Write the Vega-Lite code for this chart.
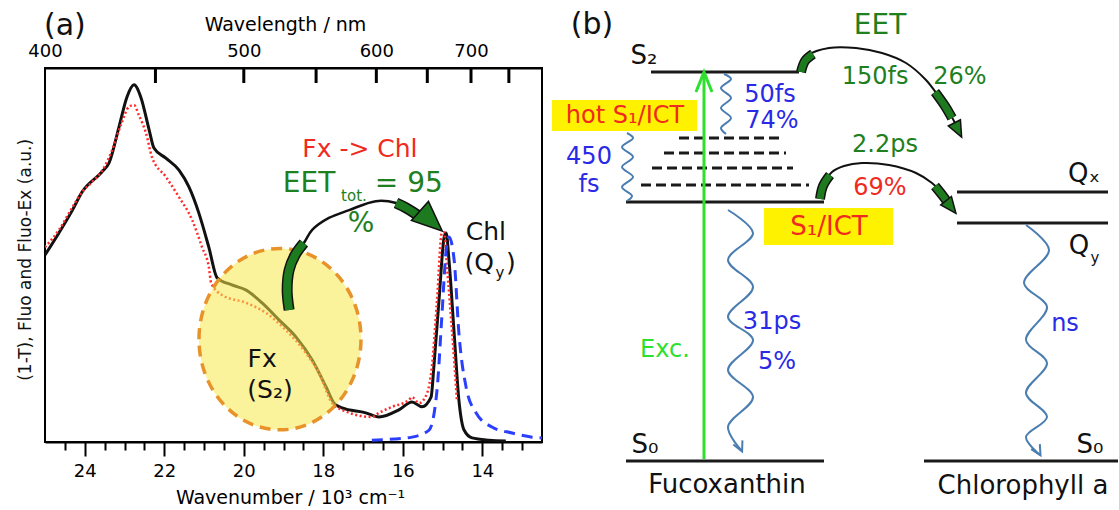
{
  "$schema": "https://vega.github.io/schema/vega-lite/v6.json",
  "background": "white",
  "padding": {"left": 15, "top": 10, "right": 0, "bottom": 0},
  "spacing": 0,
  "bounds": "flush",
  "config": {"font": "DejaVu Sans"},
  "datasets": {
    "spectra": [
      {"s":"abs","nu":25.0,"v":0.500},{"s":"abs","nu":24.65,"v":0.559},{"s":"abs","nu":24.32,"v":0.618},{"s":"abs","nu":24.07,"v":0.668},{"s":"abs","nu":23.57,"v":0.722},{"s":"abs","nu":23.39,"v":0.746},{"s":"abs","nu":23.14,"v":0.842},{"s":"abs","nu":22.94,"v":0.922},{"s":"abs","nu":22.76,"v":0.955},{"s":"abs","nu":22.59,"v":0.922},{"s":"abs","nu":22.38,"v":0.834},{"s":"abs","nu":22.26,"v":0.786},{"s":"abs","nu":21.96,"v":0.759},{"s":"abs","nu":21.63,"v":0.727},{"s":"abs","nu":21.38,"v":0.682},{"s":"abs","nu":21.13,"v":0.612},{"s":"abs","nu":20.88,"v":0.521},{"s":"abs","nu":20.67,"v":0.439},{"s":"abs","nu":20.30,"v":0.420},{"s":"abs","nu":19.94,"v":0.406},{"s":"abs","nu":19.54,"v":0.372},{"s":"abs","nu":19.11,"v":0.326},{"s":"abs","nu":18.69,"v":0.281},{"s":"abs","nu":18.28,"v":0.219},{"s":"abs","nu":17.93,"v":0.147},{"s":"abs","nu":17.73,"v":0.104},{"s":"abs","nu":17.53,"v":0.091},{"s":"abs","nu":16.93,"v":0.078},{"s":"abs","nu":16.60,"v":0.067},{"s":"abs","nu":16.10,"v":0.086},{"s":"abs","nu":15.77,"v":0.107},{"s":"abs","nu":15.52,"v":0.094},{"s":"abs","nu":15.29,"v":0.120},{"s":"abs","nu":15.22,"v":0.201},{"s":"abs","nu":15.09,"v":0.380},{"s":"abs","nu":14.96,"v":0.548},{"s":"abs","nu":14.91,"v":0.559},{"s":"abs","nu":14.84,"v":0.487},{"s":"abs","nu":14.71,"v":0.291},{"s":"abs","nu":14.59,"v":0.112},{"s":"abs","nu":14.46,"v":0.032},{"s":"abs","nu":14.26,"v":0.011},{"s":"abs","nu":13.83,"v":0.005},{"s":"abs","nu":13.41,"v":0.003},
      {"s":"fluoex","nu":25.0,"v":0.521},{"s":"fluoex","nu":24.65,"v":0.567},{"s":"fluoex","nu":24.32,"v":0.626},{"s":"fluoex","nu":24.07,"v":0.668},{"s":"fluoex","nu":23.82,"v":0.695},{"s":"fluoex","nu":23.52,"v":0.733},{"s":"fluoex","nu":23.31,"v":0.781},{"s":"fluoex","nu":23.09,"v":0.848},{"s":"fluoex","nu":22.89,"v":0.896},{"s":"fluoex","nu":22.76,"v":0.901},{"s":"fluoex","nu":22.64,"v":0.874},{"s":"fluoex","nu":22.46,"v":0.826},{"s":"fluoex","nu":22.31,"v":0.762},{"s":"fluoex","nu":21.96,"v":0.709},{"s":"fluoex","nu":21.63,"v":0.655},{"s":"fluoex","nu":21.30,"v":0.594},{"s":"fluoex","nu":21.05,"v":0.521},{"s":"fluoex","nu":20.88,"v":0.468},{"s":"fluoex","nu":20.82,"v":0.425},{"s":"fluoex","nu":20.55,"v":0.393},{"s":"fluoex","nu":19.94,"v":0.372},{"s":"fluoex","nu":19.44,"v":0.345},{"s":"fluoex","nu":18.94,"v":0.299},{"s":"fluoex","nu":18.44,"v":0.238},{"s":"fluoex","nu":18.11,"v":0.184},{"s":"fluoex","nu":17.78,"v":0.104},{"s":"fluoex","nu":17.53,"v":0.086},{"s":"fluoex","nu":16.78,"v":0.067},{"s":"fluoex","nu":16.60,"v":0.078},{"s":"fluoex","nu":16.27,"v":0.094},{"s":"fluoex","nu":15.85,"v":0.112},{"s":"fluoex","nu":15.77,"v":0.120},{"s":"fluoex","nu":15.59,"v":0.104},{"s":"fluoex","nu":15.39,"v":0.131},{"s":"fluoex","nu":15.27,"v":0.201},{"s":"fluoex","nu":15.14,"v":0.380},{"s":"fluoex","nu":15.02,"v":0.559},{"s":"fluoex","nu":14.96,"v":0.561},{"s":"fluoex","nu":14.89,"v":0.468},{"s":"fluoex","nu":14.79,"v":0.334},{"s":"fluoex","nu":14.71,"v":0.219},{"s":"fluoex","nu":14.64,"v":0.112},
      {"s":"fluo","nu":16.78,"v":0.005},{"s":"fluo","nu":16.22,"v":0.008},{"s":"fluo","nu":15.77,"v":0.013},{"s":"fluo","nu":15.34,"v":0.032},{"s":"fluo","nu":15.14,"v":0.139},{"s":"fluo","nu":15.02,"v":0.334},{"s":"fluo","nu":14.91,"v":0.513},{"s":"fluo","nu":14.84,"v":0.548},{"s":"fluo","nu":14.71,"v":0.487},{"s":"fluo","nu":14.59,"v":0.291},{"s":"fluo","nu":14.41,"v":0.147},{"s":"fluo","nu":14.16,"v":0.078},{"s":"fluo","nu":13.76,"v":0.040},{"s":"fluo","nu":13.25,"v":0.024},{"s":"fluo","nu":12.75,"v":0.013},{"s":"fluo","nu":12.5,"v":0.011}
    ],
    "regionA": [{"nu": 19.09, "v": 0.275}],
    "topTicksA": [
      {"nm": 450, "nu": 22.2222, "v": 0.98},
      {"nm": 500, "nu": 20.0, "v": 0.98},
      {"nm": 550, "nu": 18.1818, "v": 0.98},
      {"nm": 600, "nu": 16.6667, "v": 0.98},
      {"nm": 650, "nu": 15.3846, "v": 0.98},
      {"nm": 700, "nu": 14.2857, "v": 0.98},
      {"nm": 750, "nu": 13.3333, "v": 0.98}
    ],
    "arrowA": [
      {"seg":"edge","i":0,"nu":18.86,"v":0.353},{"seg":"edge","i":1,"nu":18.91,"v":0.406},{"seg":"edge","i":2,"nu":18.86,"v":0.460},{"seg":"edge","i":3,"nu":18.71,"v":0.500},{"seg":"edge","i":4,"nu":18.49,"v":0.532},{"seg":"edge","i":5,"nu":18.28,"v":0.567},{"seg":"edge","i":6,"nu":17.86,"v":0.599},{"seg":"edge","i":7,"nu":17.35,"v":0.620},{"seg":"edge","i":8,"nu":16.68,"v":0.644},{"seg":"edge","i":9,"nu":16.17,"v":0.639},{"seg":"edge","i":10,"nu":15.92,"v":0.626},{"seg":"edge","i":11,"nu":15.52,"v":0.599},
      {"seg":"b1","i":0,"nu":18.86,"v":0.353},{"seg":"b1","i":1,"nu":18.91,"v":0.406},{"seg":"b1","i":2,"nu":18.86,"v":0.460},{"seg":"b1","i":3,"nu":18.71,"v":0.500},{"seg":"b1","i":4,"nu":18.49,"v":0.532},
      {"seg":"b2","i":0,"nu":16.17,"v":0.639},{"seg":"b2","i":1,"nu":15.92,"v":0.626},{"seg":"b2","i":2,"nu":15.52,"v":0.599}
    ],
    "headA": [{"nu": 15.29, "v": 0.591, "dir": 132}],
    "textA": [
      {"t":"(a)","nu":24.5,"v":1.112,"kind":"plain","role":"title"},
      {"t":"(1-T), Fluo and Fluo-Ex (a.u.)","nu":25.478,"v":0.487,"kind":"plain","role":"axis"},
      {"t":"Fx -> Chl","nu":17.08,"v":0.783,"kind":"ict","role":"num"},
      {"t":"EET","nu":18.36,"v":0.690,"kind":"eet","role":"big"},
      {"t":"tot.","nu":17.23,"v":0.657,"kind":"eet","role":"sub"},
      {"t":"= 95","nu":15.85,"v":0.690,"kind":"eet","role":"big"},
      {"t":"%","nu":17.05,"v":0.583,"kind":"eet","role":"big"},
      {"t":"Chl","nu":13.91,"v":0.561,"kind":"plain","role":"num"},
      {"t":"(Q","nu":14.08,"v":0.479,"kind":"plain","role":"num"},
      {"t":"y","nu":13.56,"v":0.452,"kind":"plain","role":"sub"},
      {"t":")","nu":13.28,"v":0.479,"kind":"plain","role":"num"},
      {"t":"Fx","nu":19.54,"v":0.222,"kind":"plain","role":"num"},
      {"t":"(S₂)","nu":19.34,"v":0.139,"kind":"plain","role":"num"}
    ],
    "levelsB": [
      {"x1":652,"x2":800,"y":72,"state":"electronic"},
      {"x1":627,"x2":825,"y":202,"state":"electronic"},
      {"x1":680,"x2":781,"y":138,"state":"vibrational"},
      {"x1":665,"x2":787,"y":153,"state":"vibrational"},
      {"x1":653,"x2":794,"y":168,"state":"vibrational"},
      {"x1":642,"x2":810,"y":185,"state":"vibrational"},
      {"x1":958,"x2":1109,"y":192,"state":"electronic"},
      {"x1":958,"x2":1109,"y":223,"state":"electronic"},
      {"x1":627,"x2":825,"y":461,"state":"electronic"},
      {"x1":925,"x2":1119,"y":461,"state":"electronic"}
    ],
    "boxesB": [
      {"x1":553,"x2":698,"y1":100,"y2":131},
      {"x1":765,"x2":894,"y1":208,"y2":245}
    ],
    "wavesB": [
      {"w":"a","i":0,"x":725,"y":74},{"w":"a","i":1,"x":732,"y":79},{"w":"a","i":2,"x":722,"y":88},{"w":"a","i":3,"x":732,"y":98},{"w":"a","i":4,"x":722,"y":108},{"w":"a","i":5,"x":732,"y":118},{"w":"a","i":6,"x":722,"y":128},{"w":"a","i":7,"x":727,"y":134},
      {"w":"b","i":0,"x":628,"y":133},{"w":"b","i":1,"x":634,"y":138},{"w":"b","i":2,"x":623,"y":147},{"w":"b","i":3,"x":634,"y":157},{"w":"b","i":4,"x":623,"y":167},{"w":"b","i":5,"x":634,"y":177},{"w":"b","i":6,"x":623,"y":187},{"w":"b","i":7,"x":633,"y":196},{"w":"b","i":8,"x":628,"y":201},
      {"w":"c","i":0,"x":729,"y":210},{"w":"c","i":1,"x":754,"y":233},{"w":"c","i":2,"x":729,"y":260},{"w":"c","i":3,"x":754,"y":287},{"w":"c","i":4,"x":729,"y":317},{"w":"c","i":5,"x":754,"y":340},{"w":"c","i":6,"x":729,"y":370},{"w":"c","i":7,"x":754,"y":397},{"w":"c","i":8,"x":729,"y":427},{"w":"c","i":9,"x":743,"y":451},
      {"w":"d","i":0,"x":1027,"y":225},{"w":"d","i":1,"x":1050,"y":250},{"w":"d","i":2,"x":1025,"y":283},{"w":"d","i":3,"x":1048,"y":307},{"w":"d","i":4,"x":1027,"y":340},{"w":"d","i":5,"x":1048,"y":363},{"w":"d","i":6,"x":1027,"y":393},{"w":"d","i":7,"x":1048,"y":417},{"w":"d","i":8,"x":1027,"y":437},{"w":"d","i":9,"x":1041,"y":455}
    ],
    "waveHeadsB": [{"x":741,"y":447,"dir":155},{"x":1039,"y":451,"dir":150}],
    "arrowsB": [
      {"seg":"exc","i":0,"x":705,"y":459},{"seg":"exc","i":1,"x":705,"y":76},
      {"seg":"top_edge","i":0,"x":803,"y":70},{"seg":"top_edge","i":1,"x":810,"y":55},{"seg":"top_edge","i":2,"x":830,"y":48},{"seg":"top_edge","i":3,"x":857,"y":48},{"seg":"top_edge","i":4,"x":883,"y":53},{"seg":"top_edge","i":5,"x":907,"y":63},{"seg":"top_edge","i":6,"x":927,"y":80},{"seg":"top_edge","i":7,"x":940,"y":97},{"seg":"top_edge","i":8,"x":950,"y":112},{"seg":"top_edge","i":9,"x":957,"y":125},
      {"seg":"top_b1","i":0,"x":802,"y":72},{"seg":"top_b1","i":1,"x":806,"y":61},{"seg":"top_b1","i":2,"x":814,"y":54},
      {"seg":"top_b2","i":0,"x":936,"y":92},{"seg":"top_b2","i":1,"x":946,"y":106},{"seg":"top_b2","i":2,"x":953,"y":118},
      {"seg":"bot_edge","i":0,"x":822,"y":198},{"seg":"bot_edge","i":1,"x":825,"y":184},{"seg":"bot_edge","i":2,"x":833,"y":172},{"seg":"bot_edge","i":3,"x":845,"y":166},{"seg":"bot_edge","i":4,"x":863,"y":163},{"seg":"bot_edge","i":5,"x":890,"y":165},{"seg":"bot_edge","i":6,"x":917,"y":173},{"seg":"bot_edge","i":7,"x":933,"y":183},{"seg":"bot_edge","i":8,"x":944,"y":194},{"seg":"bot_edge","i":9,"x":950,"y":203},
      {"seg":"bot_b1","i":0,"x":821,"y":199},{"seg":"bot_b1","i":1,"x":824,"y":186},{"seg":"bot_b1","i":2,"x":831,"y":175},
      {"seg":"bot_b2","i":0,"x":936,"y":186},{"seg":"bot_b2","i":1,"x":944,"y":196},{"seg":"bot_b2","i":2,"x":949,"y":203}
    ],
    "headsB": [{"x":959,"y":130,"dir":153},{"x":952,"y":207,"dir":142}],
    "excHeadB": [{"x":705,"y":82,"dir":0}],
    "textB": [
      {"t":"(b)","x":593,"y":25,"kind":"plain","role":"title"},
      {"t":"S₂","x":645,"y":56,"kind":"plain","role":"label"},
      {"t":"50fs","x":771,"y":95,"kind":"decay","role":"num"},
      {"t":"74%","x":773,"y":121,"kind":"decay","role":"num"},
      {"t":"hot S₁/ICT","x":626,"y":116,"kind":"ict","role":"num"},
      {"t":"450","x":590,"y":157,"kind":"decay","role":"num"},
      {"t":"fs","x":590,"y":185,"kind":"decay","role":"num"},
      {"t":"EET","x":881,"y":26,"kind":"eet","role":"big"},
      {"t":"150fs","x":876,"y":77,"kind":"eet","role":"num"},
      {"t":"26%","x":961,"y":77,"kind":"eet","role":"num"},
      {"t":"2.2ps","x":886,"y":145,"kind":"eet","role":"num"},
      {"t":"69%","x":881,"y":188,"kind":"ict","role":"num"},
      {"t":"S₁/ICT","x":830,"y":227,"kind":"ict","role":"label"},
      {"t":"Qₓ","x":1085,"y":174,"kind":"plain","role":"label"},
      {"t":"Q","x":1080,"y":246,"kind":"plain","role":"label"},
      {"t":"y","x":1096,"y":258,"kind":"plain","role":"sub"},
      {"t":"Exc.","x":666,"y":350,"kind":"exc","role":"num"},
      {"t":"31ps","x":773,"y":322,"kind":"decay","role":"num"},
      {"t":"5%","x":778,"y":362,"kind":"decay","role":"num"},
      {"t":"S₀","x":646,"y":445,"kind":"plain","role":"label"},
      {"t":"S₀","x":1091,"y":445,"kind":"plain","role":"label"},
      {"t":"ns","x":1066,"y":324,"kind":"decay","role":"num"},
      {"t":"Fucoxanthin","x":728,"y":485,"kind":"plain","role":"label"},
      {"t":"Chlorophyll a","x":1024,"y":486,"kind":"plain","role":"label"}
    ]
  },
  "hconcat": [
    {
      "width": 497,
      "height": 374,
      "view": {"stroke": "black", "strokeWidth": 2},
      "resolve": {"axis": {"x": "independent"}},
      "layer": [
        {
          "data": {"name": "spectra"},
          "transform": [{"filter": "datum.s === 'abs'"}],
          "mark": {"type": "line", "clip": true, "interpolate": "monotone", "color": "#111111", "strokeWidth": 3},
          "encoding": {
            "x": {"field": "nu", "type": "quantitative", "scale": {"domain": [12.5, 25], "reverse": true, "nice": false, "zero": false},
              "axis": {"orient": "bottom", "values": [24.5,24,23.5,23,22.5,22,21.5,21,20.5,20,19.5,19,18.5,18,17.5,17,16.5,16,15.5,15,14.5,14,13.5,13],
                "labelExpr": "datum.value % 2 === 0 ? format(datum.value, 'd') : ''",
                "tickSize": {"condition": {"test": "datum.value % 2 === 0", "value": 14}, "value": 8},
                "tickColor": "black", "tickWidth": 2, "domainColor": "black", "domainWidth": 2, "grid": false,
                "labelFontSize": 18, "labelColor": "black", "labelPadding": 6, "labelFlush": false, "labelOverlap": false,
                "title": "Wavenumber / 10³ cm⁻¹", "titleFontSize": 19, "titleFontWeight": "normal", "titleColor": "black", "titlePadding": 8, "titleX": 245}},
            "y": {"field": "v", "type": "quantitative", "scale": {"domain": [0, 1], "nice": false, "zero": false}, "axis": null}
          }
        },
        {
          "data": {"name": "spectra"},
          "transform": [{"filter": "datum.s === 'fluoex'"}],
          "mark": {"type": "line", "clip": true, "interpolate": "monotone", "color": "#ff2a2a", "strokeWidth": 2.5, "strokeDash": [2, 2.5]},
          "encoding": {
            "x": {"field": "nu", "type": "quantitative", "scale": {"domain": [12.5, 25], "reverse": true, "nice": false, "zero": false}, "axis": null},
            "y": {"field": "v", "type": "quantitative", "scale": {"domain": [0, 1], "nice": false, "zero": false}, "axis": null}
          }
        },
        {
          "data": {"name": "spectra"},
          "transform": [{"filter": "datum.s === 'fluo'"}],
          "mark": {"type": "line", "clip": true, "interpolate": "monotone", "color": "#2b3fff", "strokeWidth": 3, "strokeDash": [11, 7]},
          "encoding": {
            "x": {"field": "nu", "type": "quantitative", "scale": {"domain": [12.5, 25], "reverse": true, "nice": false, "zero": false}, "axis": null},
            "y": {"field": "v", "type": "quantitative", "scale": {"domain": [0, 1], "nice": false, "zero": false}, "axis": null}
          }
        },
        {
          "data": {"name": "regionA"},
          "mark": {"type": "point", "shape": "M-1,0A1,1.12 0 1,1 1,0A1,1.12 0 1,1 -1,0Z", "size": 26244, "filled": true, "fill": "#f7e84a", "fillOpacity": 0.55, "stroke": "#e8922a", "strokeOpacity": 1, "strokeWidth": 3.5, "strokeDash": [11, 7], "opacity": 1},
          "encoding": {
            "x": {"field": "nu", "type": "quantitative", "scale": {"domain": [12.5, 25], "reverse": true, "nice": false, "zero": false},
              "axis": {"orient": "top", "values": [25, 20, 16.6667, 14.2857],
                "labelExpr": "format(round(10000/datum.value), 'd')",
                "ticks": false, "domainColor": "black", "domainWidth": 2, "grid": false,
                "labelFontSize": 18, "labelColor": "black", "labelPadding": 8, "labelFlush": false, "labelOverlap": false,
                "title": "Wavelength / nm", "titleFontSize": 19, "titleFontWeight": "normal", "titleColor": "black", "titlePadding": 8, "titleX": 240}},
            "y": {"field": "v", "type": "quantitative", "scale": {"domain": [0, 1], "nice": false, "zero": false}, "axis": null}
          }
        },
        {
          "data": {"name": "topTicksA"},
          "mark": {"type": "tick", "orient": "vertical", "color": "#000000", "size": 15, "thickness": 3, "opacity": 1, "filled": true},
          "encoding": {
            "x": {"field": "nu", "type": "quantitative", "scale": {"domain": [12.5, 25], "reverse": true, "nice": false, "zero": false}, "axis": null},
            "y": {"field": "v", "type": "quantitative", "scale": {"domain": [0, 1], "nice": false, "zero": false}, "axis": null}
          }
        },
        {
          "data": {"name": "arrowA"},
          "transform": [{"filter": "datum.seg === 'edge'"}],
          "mark": {"type": "line", "interpolate": "catmull-rom", "color": "#111111", "strokeWidth": 2.5},
          "encoding": {
            "x": {"field": "nu", "type": "quantitative", "scale": {"domain": [12.5, 25], "reverse": true, "nice": false, "zero": false}, "axis": null},
            "y": {"field": "v", "type": "quantitative", "scale": {"domain": [0, 1], "nice": false, "zero": false}, "axis": null},
            "order": {"field": "i", "type": "quantitative"}
          }
        },
        {
          "data": {"name": "arrowA"},
          "transform": [{"filter": "datum.seg !== 'edge'"}],
          "mark": {"type": "line", "interpolate": "catmull-rom", "color": "#111111", "strokeWidth": 11},
          "encoding": {
            "x": {"field": "nu", "type": "quantitative", "scale": {"domain": [12.5, 25], "reverse": true, "nice": false, "zero": false}, "axis": null},
            "y": {"field": "v", "type": "quantitative", "scale": {"domain": [0, 1], "nice": false, "zero": false}, "axis": null},
            "detail": {"field": "seg"},
            "order": {"field": "i", "type": "quantitative"}
          }
        },
        {
          "data": {"name": "arrowA"},
          "transform": [{"filter": "datum.seg !== 'edge'"}],
          "mark": {"type": "line", "interpolate": "catmull-rom", "color": "#1e7a1e", "strokeWidth": 8},
          "encoding": {
            "x": {"field": "nu", "type": "quantitative", "scale": {"domain": [12.5, 25], "reverse": true, "nice": false, "zero": false}, "axis": null},
            "y": {"field": "v", "type": "quantitative", "scale": {"domain": [0, 1], "nice": false, "zero": false}, "axis": null},
            "detail": {"field": "seg"},
            "order": {"field": "i", "type": "quantitative"}
          }
        },
        {
          "data": {"name": "headA"},
          "mark": {"type": "point", "shape": "M0,-1L0.85,1L-0.85,1Z", "size": 900, "filled": true, "fill": "#1e7a1e", "stroke": "#111111", "strokeWidth": 1.5, "opacity": 1},
          "encoding": {
            "x": {"field": "nu", "type": "quantitative", "scale": {"domain": [12.5, 25], "reverse": true, "nice": false, "zero": false}, "axis": null},
            "y": {"field": "v", "type": "quantitative", "scale": {"domain": [0, 1], "nice": false, "zero": false}, "axis": null},
            "angle": {"field": "dir", "type": "quantitative", "scale": null}
          }
        },
        {
          "data": {"name": "textA"},
          "transform": [{"filter": "datum.role === 'axis'"}],
          "mark": {"type": "text", "fontSize": 17, "align": "center", "baseline": "middle", "angle": 270},
          "encoding": {
            "x": {"field": "nu", "type": "quantitative", "scale": {"domain": [12.5, 25], "reverse": true, "nice": false, "zero": false}, "axis": null},
            "y": {"field": "v", "type": "quantitative", "scale": {"domain": [0, 1], "nice": false, "zero": false}, "axis": null},
            "text": {"field": "t"},
            "color": {"field": "kind", "type": "nominal", "scale": {"domain": ["plain","ict","eet","decay","exc"], "range": ["#111111","#f02a20","#1e801e","#2a2ae6","#2ee02e"]}, "legend": null}
          }
        },
        {
          "data": {"name": "textA"},
          "transform": [{"filter": "datum.role === 'title'"}],
          "mark": {"type": "text", "fontSize": 30, "align": "center", "baseline": "middle"},
          "encoding": {
            "x": {"field": "nu", "type": "quantitative", "scale": {"domain": [12.5, 25], "reverse": true, "nice": false, "zero": false}, "axis": null},
            "y": {"field": "v", "type": "quantitative", "scale": {"domain": [0, 1], "nice": false, "zero": false}, "axis": null},
            "text": {"field": "t"},
            "color": {"field": "kind", "type": "nominal", "scale": {"domain": ["plain","ict","eet","decay","exc"], "range": ["#111111","#f02a20","#1e801e","#2a2ae6","#2ee02e"]}, "legend": null}
          }
        },
        {
          "data": {"name": "textA"},
          "transform": [{"filter": "datum.role === 'num'"}],
          "mark": {"type": "text", "fontSize": 25, "align": "center", "baseline": "middle"},
          "encoding": {
            "x": {"field": "nu", "type": "quantitative", "scale": {"domain": [12.5, 25], "reverse": true, "nice": false, "zero": false}, "axis": null},
            "y": {"field": "v", "type": "quantitative", "scale": {"domain": [0, 1], "nice": false, "zero": false}, "axis": null},
            "text": {"field": "t"},
            "color": {"field": "kind", "type": "nominal", "scale": {"domain": ["plain","ict","eet","decay","exc"], "range": ["#111111","#f02a20","#1e801e","#2a2ae6","#2ee02e"]}, "legend": null}
          }
        },
        {
          "data": {"name": "textA"},
          "transform": [{"filter": "datum.role === 'big'"}],
          "mark": {"type": "text", "fontSize": 28, "align": "center", "baseline": "middle"},
          "encoding": {
            "x": {"field": "nu", "type": "quantitative", "scale": {"domain": [12.5, 25], "reverse": true, "nice": false, "zero": false}, "axis": null},
            "y": {"field": "v", "type": "quantitative", "scale": {"domain": [0, 1], "nice": false, "zero": false}, "axis": null},
            "text": {"field": "t"},
            "color": {"field": "kind", "type": "nominal", "scale": {"domain": ["plain","ict","eet","decay","exc"], "range": ["#111111","#f02a20","#1e801e","#2a2ae6","#2ee02e"]}, "legend": null}
          }
        },
        {
          "data": {"name": "textA"},
          "transform": [{"filter": "datum.role === 'sub'"}],
          "mark": {"type": "text", "fontSize": 15, "align": "center", "baseline": "middle"},
          "encoding": {
            "x": {"field": "nu", "type": "quantitative", "scale": {"domain": [12.5, 25], "reverse": true, "nice": false, "zero": false}, "axis": null},
            "y": {"field": "v", "type": "quantitative", "scale": {"domain": [0, 1], "nice": false, "zero": false}, "axis": null},
            "text": {"field": "t"},
            "color": {"field": "kind", "type": "nominal", "scale": {"domain": ["plain","ict","eet","decay","exc"], "range": ["#111111","#f02a20","#1e801e","#2a2ae6","#2ee02e"]}, "legend": null}
          }
        }
      ]
    },
    {
      "width": 576,
      "height": 442,
      "view": {"stroke": null},
      "layer": [
        {
          "data": {"name": "boxesB"},
          "mark": {"type": "rect", "color": "#fff200"},
          "encoding": {
            "x": {"field": "x1", "type": "quantitative", "scale": {"domain": [543, 1119], "nice": false, "zero": false}, "axis": null},
            "x2": {"field": "x2"},
            "y": {"field": "y1", "type": "quantitative", "scale": {"domain": [68, 510], "reverse": true, "nice": false, "zero": false}, "axis": null},
            "y2": {"field": "y2"}
          }
        },
        {
          "data": {"name": "levelsB"},
          "mark": {"type": "rule", "color": "#1a1a1a", "strokeWidth": 3},
          "encoding": {
            "x": {"field": "x1", "type": "quantitative", "scale": {"domain": [543, 1119], "nice": false, "zero": false}, "axis": null},
            "x2": {"field": "x2"},
            "y": {"field": "y", "type": "quantitative", "scale": {"domain": [68, 510], "reverse": true, "nice": false, "zero": false}, "axis": null},
            "strokeDash": {"field": "state", "type": "nominal", "scale": {"domain": ["electronic", "vibrational"], "range": [[1, 0], [10, 5]]}, "legend": null}
          }
        },
        {
          "data": {"name": "wavesB"},
          "mark": {"type": "line", "interpolate": "catmull-rom", "color": "#4a7db0", "strokeWidth": 2},
          "encoding": {
            "x": {"field": "x", "type": "quantitative", "scale": {"domain": [543, 1119], "nice": false, "zero": false}, "axis": null},
            "y": {"field": "y", "type": "quantitative", "scale": {"domain": [68, 510], "reverse": true, "nice": false, "zero": false}, "axis": null},
            "detail": {"field": "w"},
            "order": {"field": "i", "type": "quantitative"}
          }
        },
        {
          "data": {"name": "waveHeadsB"},
          "mark": {"type": "point", "shape": "M-1,1L0,-1L1,1", "size": 100, "filled": false, "stroke": "#4a7db0", "strokeWidth": 2, "opacity": 1},
          "encoding": {
            "x": {"field": "x", "type": "quantitative", "scale": {"domain": [543, 1119], "nice": false, "zero": false}, "axis": null},
            "y": {"field": "y", "type": "quantitative", "scale": {"domain": [68, 510], "reverse": true, "nice": false, "zero": false}, "axis": null},
            "angle": {"field": "dir", "type": "quantitative", "scale": null}
          }
        },
        {
          "data": {"name": "arrowsB"},
          "transform": [{"filter": "datum.seg === 'exc'"}],
          "mark": {"type": "line", "color": "#2ee02e", "strokeWidth": 3},
          "encoding": {
            "x": {"field": "x", "type": "quantitative", "scale": {"domain": [543, 1119], "nice": false, "zero": false}, "axis": null},
            "y": {"field": "y", "type": "quantitative", "scale": {"domain": [68, 510], "reverse": true, "nice": false, "zero": false}, "axis": null},
            "order": {"field": "i", "type": "quantitative"}
          }
        },
        {
          "data": {"name": "excHeadB"},
          "mark": {"type": "point", "shape": "M-0.8,1L0,-1L0.8,1", "size": 400, "filled": false, "stroke": "#2ee02e", "strokeWidth": 3, "opacity": 1},
          "encoding": {
            "x": {"field": "x", "type": "quantitative", "scale": {"domain": [543, 1119], "nice": false, "zero": false}, "axis": null},
            "y": {"field": "y", "type": "quantitative", "scale": {"domain": [68, 510], "reverse": true, "nice": false, "zero": false}, "axis": null},
            "angle": {"field": "dir", "type": "quantitative", "scale": null}
          }
        },
        {
          "data": {"name": "arrowsB"},
          "transform": [{"filter": "indexof(datum.seg, 'edge') >= 0"}],
          "mark": {"type": "line", "interpolate": "catmull-rom", "color": "#111111", "strokeWidth": 2},
          "encoding": {
            "x": {"field": "x", "type": "quantitative", "scale": {"domain": [543, 1119], "nice": false, "zero": false}, "axis": null},
            "y": {"field": "y", "type": "quantitative", "scale": {"domain": [68, 510], "reverse": true, "nice": false, "zero": false}, "axis": null},
            "detail": {"field": "seg"},
            "order": {"field": "i", "type": "quantitative"}
          }
        },
        {
          "data": {"name": "arrowsB"},
          "transform": [{"filter": "indexof(datum.seg, '_b') >= 0"}],
          "mark": {"type": "line", "interpolate": "catmull-rom", "color": "#111111", "strokeWidth": 10},
          "encoding": {
            "x": {"field": "x", "type": "quantitative", "scale": {"domain": [543, 1119], "nice": false, "zero": false}, "axis": null},
            "y": {"field": "y", "type": "quantitative", "scale": {"domain": [68, 510], "reverse": true, "nice": false, "zero": false}, "axis": null},
            "detail": {"field": "seg"},
            "order": {"field": "i", "type": "quantitative"}
          }
        },
        {
          "data": {"name": "arrowsB"},
          "transform": [{"filter": "indexof(datum.seg, '_b') >= 0"}],
          "mark": {"type": "line", "interpolate": "catmull-rom", "color": "#1e7a1e", "strokeWidth": 7},
          "encoding": {
            "x": {"field": "x", "type": "quantitative", "scale": {"domain": [543, 1119], "nice": false, "zero": false}, "axis": null},
            "y": {"field": "y", "type": "quantitative", "scale": {"domain": [68, 510], "reverse": true, "nice": false, "zero": false}, "axis": null},
            "detail": {"field": "seg"},
            "order": {"field": "i", "type": "quantitative"}
          }
        },
        {
          "data": {"name": "headsB"},
          "mark": {"type": "point", "shape": "M0,-1L0.85,1L-0.85,1Z", "size": 256, "filled": true, "fill": "#1e7a1e", "stroke": "#111111", "strokeWidth": 1.5, "opacity": 1},
          "encoding": {
            "x": {"field": "x", "type": "quantitative", "scale": {"domain": [543, 1119], "nice": false, "zero": false}, "axis": null},
            "y": {"field": "y", "type": "quantitative", "scale": {"domain": [68, 510], "reverse": true, "nice": false, "zero": false}, "axis": null},
            "angle": {"field": "dir", "type": "quantitative", "scale": null}
          }
        },
        {
          "data": {"name": "textB"},
          "transform": [{"filter": "datum.role === 'title'"}],
          "mark": {"type": "text", "fontSize": 30, "align": "center", "baseline": "middle"},
          "encoding": {
            "x": {"field": "x", "type": "quantitative", "scale": {"domain": [543, 1119], "nice": false, "zero": false}, "axis": null},
            "y": {"field": "y", "type": "quantitative", "scale": {"domain": [68, 510], "reverse": true, "nice": false, "zero": false}, "axis": null},
            "text": {"field": "t"},
            "color": {"field": "kind", "type": "nominal", "scale": {"domain": ["plain","ict","eet","decay","exc"], "range": ["#111111","#f02a20","#1e801e","#2a2ae6","#2ee02e"]}, "legend": null}
          }
        },
        {
          "data": {"name": "textB"},
          "transform": [{"filter": "datum.role === 'label'"}],
          "mark": {"type": "text", "fontSize": 26, "align": "center", "baseline": "middle"},
          "encoding": {
            "x": {"field": "x", "type": "quantitative", "scale": {"domain": [543, 1119], "nice": false, "zero": false}, "axis": null},
            "y": {"field": "y", "type": "quantitative", "scale": {"domain": [68, 510], "reverse": true, "nice": false, "zero": false}, "axis": null},
            "text": {"field": "t"},
            "color": {"field": "kind", "type": "nominal", "scale": {"domain": ["plain","ict","eet","decay","exc"], "range": ["#111111","#f02a20","#1e801e","#2a2ae6","#2ee02e"]}, "legend": null}
          }
        },
        {
          "data": {"name": "textB"},
          "transform": [{"filter": "datum.role === 'num'"}],
          "mark": {"type": "text", "fontSize": 24, "align": "center", "baseline": "middle"},
          "encoding": {
            "x": {"field": "x", "type": "quantitative", "scale": {"domain": [543, 1119], "nice": false, "zero": false}, "axis": null},
            "y": {"field": "y", "type": "quantitative", "scale": {"domain": [68, 510], "reverse": true, "nice": false, "zero": false}, "axis": null},
            "text": {"field": "t"},
            "color": {"field": "kind", "type": "nominal", "scale": {"domain": ["plain","ict","eet","decay","exc"], "range": ["#111111","#f02a20","#1e801e","#2a2ae6","#2ee02e"]}, "legend": null}
          }
        },
        {
          "data": {"name": "textB"},
          "transform": [{"filter": "datum.role === 'big'"}],
          "mark": {"type": "text", "fontSize": 28, "align": "center", "baseline": "middle"},
          "encoding": {
            "x": {"field": "x", "type": "quantitative", "scale": {"domain": [543, 1119], "nice": false, "zero": false}, "axis": null},
            "y": {"field": "y", "type": "quantitative", "scale": {"domain": [68, 510], "reverse": true, "nice": false, "zero": false}, "axis": null},
            "text": {"field": "t"},
            "color": {"field": "kind", "type": "nominal", "scale": {"domain": ["plain","ict","eet","decay","exc"], "range": ["#111111","#f02a20","#1e801e","#2a2ae6","#2ee02e"]}, "legend": null}
          }
        },
        {
          "data": {"name": "textB"},
          "transform": [{"filter": "datum.role === 'sub'"}],
          "mark": {"type": "text", "fontSize": 15, "align": "center", "baseline": "middle"},
          "encoding": {
            "x": {"field": "x", "type": "quantitative", "scale": {"domain": [543, 1119], "nice": false, "zero": false}, "axis": null},
            "y": {"field": "y", "type": "quantitative", "scale": {"domain": [68, 510], "reverse": true, "nice": false, "zero": false}, "axis": null},
            "text": {"field": "t"},
            "color": {"field": "kind", "type": "nominal", "scale": {"domain": ["plain","ict","eet","decay","exc"], "range": ["#111111","#f02a20","#1e801e","#2a2ae6","#2ee02e"]}, "legend": null}
          }
        }
      ]
    }
  ]
}
